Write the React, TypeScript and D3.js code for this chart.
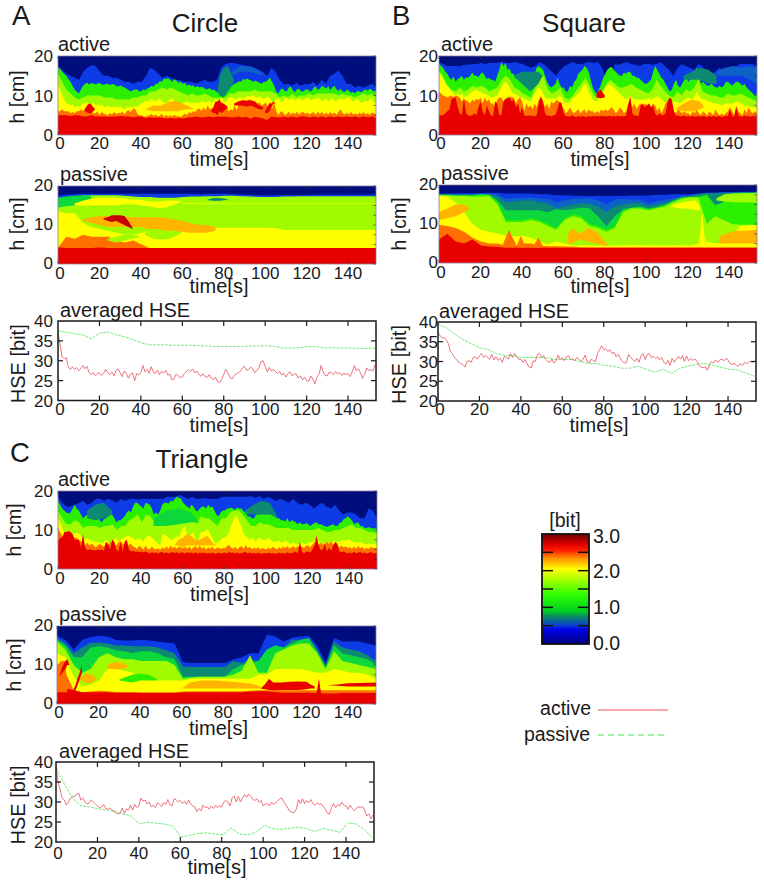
import React from "react";
import * as d3 from "d3";

const TMAX = 153.5;
const PAL: Record<string, string> = {
  navy: "#00087c", blue: "#0a3ae6", mid: "#0b62c8", teal: "#0a8a72", green: "#10d83a", bright: "#2cf000",
  lime: "#a0fa00", pale: "#c8ff00", yellow: "#ffff00", amber: "#ffb400", orange: "#ff7000", red: "#e80000", dark: "#c40000",
};
const xTicks = [0, 20, 40, 60, 80, 100, 120, 140];
const hTicks = [0, 10, 20];
const hseTicks = [20, 25, 30, 35, 40];
const barLabels = ["3.0", "2.0", "1.0", "0.0"];

// ---- Circle active
const caBlue = [17.5,16.5,15.5,15,14.5,14,16,17,17.7,17.5, 16,15,15,14.5,14.5,14,13.5,13.5,13,13.5, 13.5,15,17,16.5,15.5,14.5,15,14.5,14,14, 13.5,13.5,13.5,13,13.5,14,13.5,13.5,14,17, 18,18.2,18.2,18,17.8,17.5,17.5,17,16.5,16, 15,17,16,14,12.8,13,12.5,13.2,12.5,13, 12.8,13.5,12.5,14,13,15,15.5,16.3,15,13, 13,12,12.5,12,12.5,13,12];
const caGreen = [17,16.8,16,15.5,15,14.2,13.5,12.5,11.5,11,10.5,11.5,12.5,13,13.2,12.8,13.2,13,12.9,13, 13.2,12.8,12.7,12.9,13,12.6,13,12.8,12.5,12.3,12.6,12.3,12,11.7,11.4,11,11.3,11.5,11.6,11.1, 11.1,11.6,11.4,11.8,12,12.5,12.3,13,13,13.7,13.5,14.3,14.2,14.4,14,13.5,14.2,13.8,13.2,13.5, 13,13.2,12.5,12.8,12.4,12.6,12,12.4,12,12.2,12,11.6,11.6,11.9,11.3,11.6,11,10.8,10.3,10, 10.5,11.5,12.5,12.8,12.6,13,13.2,13.6,13.5,14.2,14,14.3,14,13.8,13.4,13.8,13.5,13.2,13,13.5, 13.5,14,14.5,13.5,12.5,11,10.5,11.5,11.8,11.2,11,12,12.3,11.3,10.8,11.6,11.7,11.1,11,11.5, 11.6,11.2,11,12,12.3,11.4,11.8,12.4,12.2,11.7,12.4,11.4,12,12.5,11.5,11.2,11.7,11,10.9,11.5, 11.2,10.7,10.9,10.6,11.2,11,10.8,11.3,11.6,11.2,11.8,11.4,11,11.3];
const caLime = [15.5,13.5,11.5,10.5,9.5,9,9.5,10,10,10, 10,9.5,9.5,9.5,9,9,9,9,9.5,9.5, 10,10,11,11,11.5,12,11.5,12,11.5,11, 10.5,10,10.5,10,10,10.5,10,9.5,9.5,9.5, 9.5,10.5,10.5,11,11,11,11,11.5,11,11, 11,11,10.5,9.5,10,9.5,10.5,9.5,10,10, 10.5,10,10.5,10.5,10.5,10.5,10.5,10,10.5,10, 10,9.5,10,10.5,10,10.5,9.5];
const caYellow = [13,11.5,10,9,8,8,7.5,7.8,7,7.4,7,7.5,8,8,8.2,8,7.8,8.2,7.5,7.8, 7.5,7.7,7.2,7,7.4,7.2,6.9,7.3,7.1,7,7.3,6.8,6.5,7,7.2,7,6.9,7.3,7.2,7.5, 8,8.2,8.7,8.2,9,9.2,8.7,8.5,9,9.3,8.7,8.2,8,8.7,9,9.4,8.3,8,8.3,7.8, 8,8.3,8.7,8.2,8,8.3,7.9,8.3,8,8.6,8.6,8.2,8.4,8.8,8,8.6,9.2,8.5,9,9.4, 8.2,8.6,9.2,9.6,9.5,9.2,9,9.6,9.6,9.2,9.5,10,9.7,10,10,9.6,9.4,9.8,9.5,9.2, 9.4,9.8,9.2,8.6,8.4,9,9.3,8.6,8.4,9.2,9.5,8.8,9,9.4,8.6,9,9.5,8.8,8.8,9.2, 9.5,9,8.8,9.2,9.1,9.6,9,8.6,8.9,9.3,8.5,8.9,9.4,8.7,8.6,9.1,9.3,8.9,9.1,9.4, 9.6,9,8.4,8.9,9.2,8.6,8,8.4,8.7,8.4,9,9.3,8.2,8];
const caOrange = [6,6,6.5,6,6,6,5.5,5.8,5.5,6,6,6.5,6,6.8,7,6.5,6,5.5,5.5,6, 5,5.8,5.5,5.2,5,5.6,5.2,5.8,5.3,5.6,5.5,5.9,5.2,6,6.2,5.8,6.5,6.8,5.5,5, 5,4.8,4.6,4.9,5,5.3,4.8,5.2,4.7,4.9,5.4,4.5,5.1,4.7,5,4.6,5.1,4.7,4.9,4.5, 5,5.5,5,5.8,5.5,6,5.8,6.5,6.8,6,7,6.2,7.5,6.5,6.8,7,8.2,8.5,6.5,8.5, 7,7.5,6,6.5,6.2,7.5,6.2,8,8,8.5,8.8,8.6,9,8.8,8.6,8.5,8,8.2,7.5,7.8, 8.2,7,8.5,6.5,8.2,6,5,5.8,6,5,5.3,5.9,5.2,5.7,5.3,5.9,5.2,5.7,5.8,5.4, 5.7,5.2,5.6,5.8,5.1,5.9,5.4,5.8,5.2,5.7,5.2,5.8,5.3,5.7,5.1,5.9,6.5,5.5,5.2,5.7, 5.2,5.8,5.2,5.5,5.1,5.7,5.3,5.8,5.2,5.6,5.1,5.7,5.5,5.2];
const caRed = [5,5,5,4.8,5,5,4.7,4.7,5,4.7, 4.7,4.7,4.6,4.7,4.7,4.8,4.7,4.7,4.5,4.7, 4.6,4.3,4.5,4.3,4.5,4.3,4.2,4.3,4.2,4.3, 4.2,4.4,4.5,4.7,4.5,4.5,4.7,4.5,4.7,4.6, 4.7,4.5,4.4,4.7,4.4,4.6,4.1,4.6,4.4,4.2, 3.8,4.7,4.5,4.4,4.7,4.4,4.7,4.4,4.7,4.7, 4.4,4.7,4.4,4.7,4.4,4.7,4.5,4.7,4.5,4.7, 4.5,4.7,4.4,4.7,4.5,4.7,4.4];
const caPatches = [
  { c: "teal", t: [77, 78, 80, 82, 84, 85], lo: [11, 10, 9.5, 11, 12.5, 14], hi: [11, 15, 17, 17.5, 15, 14] },
  { c: "mid", t: [84, 88, 92, 96, 100], lo: [15, 16, 16, 15.5, 15], hi: [16, 17.5, 17.5, 16.5, 15] },
  { c: "amber", t: [42, 46, 50, 54, 58, 62, 66], lo: [6.5, 6, 6, 6, 6, 6.5, 6.5], hi: [6.5, 7.5, 7.5, 8.5, 8.5, 7.5, 6.5] },
  { c: "red", t: [13, 14, 15, 16, 17, 18], lo: [6, 5.7, 5.5, 5.5, 6, 6.5], hi: [6.5, 7.5, 8, 7.8, 7, 6.5] },
  { c: "red", t: [74, 75, 76, 77, 78, 79, 80, 82], lo: [6, 5.5, 5.5, 5, 6, 5.5, 6, 7], hi: [6, 7, 8.5, 8.5, 9, 8, 8, 7] },
  { c: "red", t: [85, 87, 89, 91, 93, 95, 97, 99], lo: [7.5, 7.5, 7.5, 7.2, 7.5, 7, 6.5, 6.5], hi: [8, 8.5, 8.8, 8.7, 8.8, 8.4, 7.5, 7] },
  { c: "red", t: [100, 101, 102, 103, 104, 105], lo: [5.5, 5.5, 6, 7, 8, 8], hi: [6, 7, 8, 8, 8.5, 8] },
];

// ---- Circle passive
const cpBlue = [17.5,17.8,17.9,18,18,18,18,18,18,18, 18,18,18,18,18,18,18,17.9,18,18, 18,17.9,17.8,17.7,17.6,17.6,17.6,17.7,17.7,17.7, 17.7,17.8,17.8,17.8,17.8,17.8,17.8,17.8,17.8];
const cpLime = [16.8,17,17.3,17.5,17.6,17.6,17.6,17.6,17.5,17.3, 17.2,17.2,17,17,17,17.2,17.3,17.3,17.4,17.4, 17.5,17.5,17.4,17.3,17.2,17.2,17.2,17.3,17.3,17.4, 17.4,17.4,17.4,17.4,17.4,17.4,17.4,17.4,17.4];
const cpYellow = [13.5,13,13,10.5,9.5,9,8.5,8,7.5,7.5, 8,8.5,8.5,8.5,8.5,8.5,8.8,9,9.3,9.3, 9.3,9.3,9.3,9.3,9.3,9.3,9.2,8.7,8.7,8.7, 8.7,8.7,8.7,8.7,8.7,8.7,8.7,8.7,8.7];
const cpOrange = [4.2,7,6.5,7.5,7,7,7,6,5.5,6, 5,4,4,4,4,4,4,4,4,4, 4,4,4,4,4,4,4,4,4,4, 4,4,4,4,4,4,4,4,4];
const cpRed = [4.2,4.1,4.1,4.1,4.1,4.2,4.1,4.1,4.1,4.1, 4.1,4.1,4.1,4.1,4.1,4.1,4.1,4.1,4.1,4.1, 4.1,4.1,4.1,4.1,4.1,4.1,4.1,4.1,4.1,4.1, 4.1,4.1,4.1,4.1,4.1,4.1,4.1,4.1,4.1];
const cpPatches = [
  { c: "green", t: [0, 4, 8, 12, 16], lo: [14.5, 14.8, 15, 16, 16.8], hi: [17, 17.3, 17.5, 17.6, 17.6] },
  { c: "yellow", t: [8, 12, 16, 20, 24, 28, 32, 36, 40, 44, 48, 52, 56, 60], lo: [15, 15, 15, 15, 15, 15, 15.3, 15.3, 15, 14.8, 14.3, 14.5, 15.2, 16], hi: [15.5, 16.2, 16.7, 17, 17, 17, 16.8, 16.5, 16.5, 16, 16, 16.2, 16.3, 16] },
  { c: "pale", t: [60, 90, 120, 153.5], lo: [15.3, 15.3, 15.3, 15.3], hi: [15.8, 15.7, 15.7, 15.7] },
  { c: "teal", t: [72, 75, 78, 82], lo: [16.4, 16.2, 16.2, 16.5], hi: [16.5, 16.9, 16.9, 16.6] },
  { c: "lime", t: [42, 46, 50, 54, 58, 60, 64], lo: [7.5, 6.5, 6.3, 6.5, 7.5, 8, 8], hi: [8, 9, 9, 9, 8.5, 8, 8] },
  { c: "lime", t: [24, 28, 32, 36, 40], lo: [6, 5.5, 6, 6.5, 7], hi: [6.5, 7, 7.5, 7.5, 7] },
  { c: "amber", t: [12, 16, 20, 24, 28, 32, 36, 40, 44, 48, 52, 56, 60, 64, 68, 72, 76], lo: [11, 10.5, 10, 9.5, 9.5, 9.5, 9.5, 9.5, 9, 9, 8.5, 8.5, 8.2, 8, 8, 8, 8.5], hi: [11.5, 12, 12.3, 12.3, 12.3, 12.2, 12, 12, 12, 12, 11.8, 11.5, 11, 10.5, 10, 10, 9.5] },
  { c: "dark", t: [22, 24, 26, 28, 30, 32, 34, 36], lo: [11.5, 11, 10.8, 11, 10.5, 10, 9.5, 9], hi: [11.8, 12, 12.5, 12.5, 12.5, 12.3, 11, 9.2] },
];

// ---- Square active
const saBlue = [18.5,18,17.5,17.5,17.5,17.5,17.8,17.8,18,18, 18.2,18,18.2,18.3,18.3,18.5,18.3,18.2,18.5,18.2, 18,17.5,17,17.5,18.5,18,17,16,15,16.5, 17.5,18,18.5,18,18,18.3,18.5,18.2,18.5,17, 14,15,18,17.8,18.2,18.5,18,17.8,17.5,18, 18,17.8,18,18.5,17.5,16.5,15,17,18,17.5, 17,16.5,18,17.5,15,15.5,16,17,16.5,16, 16.5,17.5,18,18,18,18,17.5];
const saGreen = [18,17.5,17,16,15.5,14.5,14,14.8,13.5,14.2,14.5,15,14,14.6,14.5,15,15.8,15,15,14.6, 15.5,15.8,15,14.2,14.5,14,14,13.5,15,16.5,18.5,17.5,18.2,16.5,16.8,15.5,15.5,14.2,14.5,13.5, 14,13,12.5,12,12,14,15.5,17,17.5,17,16.5,15,13.5,12.5,12,12.5,13,14.5,13,12, 12,11,11,12.5,12,13.5,14,15.5,16,16.5,17.5,17,16,14,12,11,10.5,11.5,13,14.5, 15.5,16.5,17,17.3,16.5,16,15.5,15,15,15.8,15.5,16,16,15,15,14.5,14.5,14,13.5,13, 13,13.5,14,16,17.5,16.5,15.5,14.5,14,13,12,11,11.5,13,14,12.5,12,13,14,14.5, 13.5,14.5,15,16,17,16,13,13.5,13,12.5,12.5,13,12.5,12,12,12.5,12,12.5,13.5,13.5, 13,12.5,13,13.5,13.5,13,12.5,13,12,11.5,11,10.5,10,10.5];
const saLime = [16,14,12,11.5,11,12,11,11.5,12.5,12, 12.5,12,11,11.5,12,14,15,14,12,11.5, 10.5,10,9.5,12,14,15,11.5,10.5,11,12, 9.5,9,10,11.5,13,14.5,12.5,10,9.5,11, 13,14,13,12,12,12.5,13,12,11.5,11, 10.5,11.5,14,12.5,11,10,9.5,11,10,11.5, 11,12,14,11,10.5,10,10,9.5,9.5,10.5, 10,10,10.5,10,9.5,9,8.5];
const saYellow = [16,15.5,14.5,13.5,12.5,12,11,10.5,10,10.5,10,10.5,9.5,9.8,10,10.5,11,11.2,11.5,11, 11,10.5,10.5,10.2,10,9.5,9.5,9.8,10,11,12,13,13.5,13,12,11,10.5,10.2,10,9.5, 9.5,9,9,8.7,8.5,9.5,10.5,11.5,12,11.5,10.5,9.5,9,9.5,9,9.5,9,9.5,10,9.5, 8.5,8.2,8,8.5,9,9.5,10,10.5,11,12,13,12.5,11,10,9,8.7,8.5,9.5,10,11, 12,12.5,13,12.5,12,11.5,11,10.5,10,9.5,9,9.5,10,9.5,9,9,9,8.8,9,9, 9,9.5,9,9.2,9.5,9.8,9.5,9,8.5,8.2,8,8,8,8.5,8.5,8.2,8,8.5,9,9.2, 9.5,9.2,9,10,11,10,9.5,9,9,8.7,8.5,8.2,8,8,8,7.8,7.5,7.7,8,8, 8,8,8,8.5,8.5,8,8,7.5,7.5,7.2,7,7,7,6.8];
const saOrange = [11,10.5,10,9.8,9.5,9.8,10,9.5,10,9.8,9.5,8.5,9,8.8,8.5,8,9,8.5,9.2,8.8, 9.5,8,9.5,8.5,9,8,8,7,9,9.5,9.5,8.5,9.5,8.5,9.8,9.5,9.5,8,9,9.5, 8.5,6,8,7,7.5,6.5,8,7,9,9.5,8.5,7,8,6.5,8.5,8,8.5,9,8,7.5, 6.5,5.5,6,7,6,5.5,6,6.5,5.5,6,6.5,5.5,6.5,6,6,5.5,6,5.5,6.5,6, 6.5,6,6.5,7,6.5,5.5,6,7,6.5,5.5,6,8,9,7,8,6.5,7.5,8,7,8, 7.5,8,7,8,7.5,6,7,5.5,6.5,8,8.5,9,7.5,6,5.5,6.5,6,5.5,6,5.5, 5.5,5,6,5.5,6.5,5.5,5,6,5.5,5,6,5.5,5,6.5,5.5,5,5.5,5,5.5,6, 7,6,5,7.5,6,5.5,5,6.5,5.5,7,6,5.5,6,5.5];
const saRed = [5,5,5,5.5,6,6.5,9,9.5,9.5,7,5.5,5,9.5,5.5,5,4.8,5,5.5,5,7, 8.5,6,5,7.5,6,5,4.8,8.5,8,5,5,8.5,9,9.5,9.5,8.5,9,7,8,5.5, 7,5,4.8,5,4.8,5,4.7,5,8,9.8,8.5,5.5,4.8,5,4.7,5,5,6.5,8.5,8, 5.5,4.7,4.8,4.6,5,4.7,4.5,4.8,4.6,4.8,4.7,4.5,4.8,4.6,4.8,4.7,4.8,4.7,4.9,4.7, 4.8,4.7,4.9,4.7,4.8,4.7,4.9,4.7,4.8,4.7,4.9,7.5,9.8,5.5,4.8,5,4.7,7.5,8,7, 7.5,8,7,7.5,5.5,4.8,5.5,5,5,5.5,8.5,9.5,9,6,4.8,5,4.7,4.8,4.9,4.7, 4.8,4.6,4.9,4.7,4.7,4.8,4.6,4.8,4.7,4.5,4.8,4.6,4.9,4.6,4.7,4.8,4.5,4.7,4.9,4.7, 6.5,4.8,4.6,7,5,4.7,4.6,5,4.7,4.8,4.6,4.9,4.7,4.8];
const saPatches = [
  { c: "teal", t: [36, 40, 44, 48, 50], lo: [15, 13, 11, 13, 15], hi: [15, 16, 16, 16, 15] },
  { c: "teal", t: [118, 122, 126, 130, 134], lo: [14, 14, 14, 13, 13], hi: [15, 16, 17, 16.5, 15] },
  { c: "mid", t: [134, 138, 142, 146, 150, 153.5], lo: [15, 15, 15, 15, 14, 13], hi: [16, 17, 17.5, 17, 17.5, 17] },
  { c: "amber", t: [114, 118, 122, 126, 128], lo: [6.5, 6, 6, 6.5, 7], hi: [6.5, 8, 9, 8.5, 7] },
  { c: "red", t: [76, 78, 80], lo: [9.5, 9.3, 9.5], hi: [10.5, 11.5, 10] },
];

// ---- Square passive
const spBlue = [17.8,17.8,17.9,17.9,17.9,17.9,18,18,17.8,17.8, 17.8,17.8,17.6,17.6,17.4,17.4,17.3,17.2,17.2,17.2, 17.2,17.2,17.2,17.3,17.3,17.3,17.5,17.5,17.6,17.6, 17.6,17.8,18,18,18.2,18.2,18.3,18.3,18.3];
const spMid = [17.7,17.7,17.7,17.7,17.7,17.8,17.8,17.5,16.5,16.6, 16.8,16.8,16.5,16.4,15.5,16,16.5,16.5,16.6,16, 15,16.3,16.4,16.3,16.3,15.4,15.8,16.2,16.6,17.1, 17.3,17.7,18,18,18.1,18.1,18.2,18.2,18.2];
const spTeal = [17.6,17.6,17.5,17.5,17.5,17.7,17.7,17,15.5,15.8, 16,16,15.5,15.2,14,14.5,15,15.3,15.2,14.5, 13,14.5,15,15.3,15.4,14.6,15,15.4,16.2,17, 17.2,17.6,17.9,17.9,18,18,18.1,18.1,18.1];
const spGreen = [17.5,17.5,17.4,17.4,17.4,17.6,17.5,16,13.5,13.5, 13.5,13.5,13.5,13,13.8,13.5,13.8,14.2,14,12, 9.5,12,13.8,14.2,14.5,14,14.3,15,16,16.8, 17,17,17.5,15,15.5,17.8,18,18,18];
const spBright = [17.4,17.4,17.3,17.3,17.3,17.5,17.4,15.5,11,11, 11,11.5,11,10,9,11.5,12.5,12,10,9.5, 8.5,9.5,13.4,14.1,14.2,13.7,14.2,14.7,15.8,16.6, 16.9,16.9,17.4,14.5,15.7,17.7,17.9,17.9,17.9];
const spLime = [17.3,17.3,17.2,17.2,17,17,17.2,15,10.5,10.5, 10.5,11,10.5,9.5,8.5,11,12,11.5,9.5,9, 8,9,13,14,14,13.5,14,14.5,15.5,16.5, 16.8,16.8,10,12,11,10,9.8,9.8,9.8];
const spYellow = [17.3,17,15.5,13,10,8.5,8,7.5,7,6.8, 7,6.5,5.5,4.8,5.5,5,4.5,4.5,4.6,4.5, 4.5,4.5,4.5,4.6,4.6,4.5,4.5,4.5,4.6,4.5, 4.5,5,5.5,5,5,7,9.5,9.7,9.7];
const spOrange = [9.8,9.5,9,8,6.5,5.5,5,5,4.5,4.5, 5,5,4.5,4.3,4.3,4.2,4.2,4,4,4, 4,4,4,4,4,4,4,4,4,4, 4,4,4,4,4,4,4,4,4];
const spRed = [6,7.5,5.5,5,6,4.5,4.2,4.1,4,4, 3.9,3.9,3.9,3.9,3.9,3.9,3.9,3.9,3.9,3.9, 3.9,3.9,3.9,3.9,3.9,3.9,3.9,3.9,3.9,3.9, 3.9,3.9,3.9,3.9,3.9,3.9,3.9,3.9,3.9];
const spPatches = [
  { c: "lime", t: [134, 138, 142, 146, 150, 153.5], lo: [16, 15.8, 15.6, 15.6, 15.5, 15.5], hi: [16.6, 17.7, 17.8, 17.8, 17.9, 18] },
  { c: "yellow", t: [112, 116, 120, 124, 126], lo: [14.5, 14, 14, 13.5, 13.5], hi: [14.8, 15.3, 15.8, 16, 14.5] },
  { c: "amber", t: [0, 4, 8, 12, 15], lo: [11, 11.5, 12, 13, 14], hi: [13, 14, 15, 15, 14] },
  { c: "amber", t: [62, 64, 68, 72, 76, 80, 82], lo: [5, 5, 6, 5.5, 5, 4.5, 4.5], hi: [7, 9, 7.5, 9, 8, 5.5, 4.5] },
  { c: "amber", t: [135, 136, 140, 144, 148, 153.5], lo: [5.5, 5, 5, 5, 5, 5], hi: [5.5, 7, 7.8, 8.3, 8.3, 8.5] },
  { c: "yellow", t: [125.5, 127, 128.5], lo: [5, 5, 5], hi: [5, 13, 5] },
  { c: "orange", t: [31, 33, 34, 35, 37], lo: [4, 4, 4, 4, 4], hi: [5, 7.5, 8.5, 7, 5] },
  { c: "orange", t: [38, 39.5, 41], lo: [4, 4, 4], hi: [5, 7, 5] },
  { c: "orange", t: [46, 48, 50], lo: [4, 4, 4], hi: [4.8, 6.5, 4.5] },
];

// ---- Triangle active
const taBlue = [18.5,17,16,16,16.5,17,17.5,16.5,17,18, 18,17.5,18,17.5,17,18,17.5,18,18,17.8, 18,18,18,18,18,18,18.5,18.5,18.5,19, 18.5,18,18.5,18,18,18.2,18,18,18,18.5, 18.5,18.5,18.5,18.5,18.5,18.5,18.7,18.2,18.7,18, 18.5,18,17.5,18,17.5,17,18,17,16.5,17, 16.5,15.5,16.5,17,16,15.5,16.5,15,14,14.5, 14.5,14,13,13,15.5,15,13];
const taGreen = [17.5,16.5,15.5,15,14.5,14.2,14.5,15.5,16.5,15.5,15,14,13,13.5,14,15,15,14.5,14.8,14.2, 12.5,12,12.8,13,13.5,14,14,13,12,12.5,12.5,13,13.5,14.5,15,14.5,16,17,17,16.5, 16,15.5,17,16.8,16.5,15.5,14,14.5,14,15,16.5,17,17,16.8,17.5,17.3,18,18.5,18.3,18, 17,16.5,16,15.5,16.5,16,15,14.8,15.5,16,16,15.5,16.5,15.8,16,15,14,13.5,14.5,15, 15,15.5,15.5,15.8,15.5,15.2,15.8,15.5,15.5,14.8,14.5,13.5,13.5,13,13,14,14,15,14.5,14, 16,16.5,15,14.5,13.5,13,13,12.5,12.5,12.2,13,12,12.5,12.3,12,11.5,12,11.5,11.5,11.8, 11.5,11,11.5,11.8,12,11.5,11.5,11.2,11,10.8,11,11.3,11.5,11,11,11.8,12,12.8,13,13.5, 13,12.5,11.5,11.8,12,11,11,10.6,10.5,10.8,10.5,10.3,10.6,10];
const taLime = [15,13,11.5,11.5,12.5,12,10.5,11,11,11, 10.5,11,11,11.5,10,11,11,12.5,13,14, 12,14,13.5,12,11,12.5,13.5,13,12.5,12.5, 13.5,12,13,11.5,13.5,13,13,12,11,13, 13,14.5,15,15,14,12.5,11,11,12,11.5, 11.5,11,10.5,10.5,10.5,10.5,10,10,10,10, 10,10,10.5,10,9.5,9.5,10,10,10.5,11, 11.5,10.5,10.5,10,9.5,9.5,9];
const taYellow = [13,12,10.5,9.5,9.5,10,9.5,9,9,9.5,9,8.5,8,7.5,8,7.5,7.5,7,7,6.8, 7,6.5,7,7.5,7,6.5,7,7.5,8,7,7.5,8,8,8.5,8.5,8,8,7.5,7.5,8, 7.5,7,8,8.5,8.5,8,7.5,7,6.5,6,8.5,9,8.5,8,7.5,7.5,8,8.5,8,9.5, 10.5,11,8.5,8,9,9.5,7.5,7,9,9.5,9.5,10,10,9,8,7,6.5,7,7.5,8, 8,8.5,9.5,11,12.5,13.5,13.5,12,11,9,8.5,8,7.5,8,7.5,7,8,8,7.5,7.5, 7.5,8,7.5,7,7,7,7.3,6.7,7,7.3,7,6.5,6.5,6.8,6.5,6.3,6.5,6.7,6.5,6.3, 6.7,7,6.7,7.3,7.5,7,7,6.5,6.5,6.8,6.8,7,7,7.3,6.8,7,7.3,7.5,7.2,7.5, 7.5,7,7,6.7,6.7,7,6.7,6.5,6.3,6.6,6.5,6.3,6.5,6.2];
const taOrange = [10.5,9.5,8.5,8,8,8.5,8,8,8,8,7.5,7,6.5,6,6.8,6,6.5,6.2,5.5,6, 6.5,6,5.8,6.5,6,6.8,7,6.2,6,6.8,7.2,6.5,6,5.5,6.2,6.5,5.8,5.5,5.2,6, 5.5,5,6,5.2,5,5.8,5.2,5,5.3,4.9,5.6,5.1,5.8,5.2,6,5.3,5.7,5.2,5.8,5.5, 5.3,5.7,5.2,5.8,5,5.5,5.9,5.2,6,5.2,5.7,5,5.6,5.2,5.8,5,5.3,5.6,5.1,5.4, 5.3,5.8,6.2,5.5,5.2,5.8,5,5.6,5.9,5.1,6.2,5.3,5.7,5,5.5,5.2,5.6,5,5.4,5.1, 5,5.5,5.1,5.7,5.3,5,5.6,5.2,5.8,5.3,5.9,5.2,5.6,5.8,5.3,5.9,5.4,5.8,5.3,6, 6,5.6,6.2,6.8,7,6.2,6.8,6.2,6.5,7,6.5,7.2,6.2,6.6,6,5.5,6,5.6,5.8,5.4, 5.6,5.2,5.8,5.2,5.9,5.3,5.7,5,5.5,5.1,5.7,5.3,5.5,5.1];
const taRed = [7,8,8,9.5,9.5,9.8,9.5,9,7.5,7.5,7.5,5.5,9,5.5,4.8,5,5,4.8,4.8,5, 4.8,5,4.7,7,6.5,5,7.5,7,5,4.5,7,4.5,7,7.5,5,4.5,4.6,4.4,4.5,4.3, 4.5,4.2,4.5,4.2,4,4.3,4.1,4.3,4,4.2,4.4,4,4.3,4,4.2,4.3,4.1,4.3,4,4.2, 4.2,4,4.3,4.1,4.2,4,4.3,4,4.2,4.1,4.2,4,4.1,4,4.2,4,3.9,4.2,4,4.1, 4.2,4,4.4,4.1,4.3,4,4.2,4,4.1,4.2,4.4,4,4.2,4,4.1,3.9,4.2,4,4,4.1, 4,4.2,4,4.1,3.9,4,4.2,4,4.1,4,4.3,4,4.1,4.2,4.5,4,7,4.5,4,4.4, 4.5,4.2,5,6,8.5,6,4.8,5,6.5,4.5,5.5,4.7,6,7,6.5,4.5,4.3,4.5,4.2,4, 4.2,4,4.5,4,4.2,4.5,4,4.2,4,4.1,4.4,4,4.1,4];
const taPatches = [
  { c: "teal", t: [14, 18, 22, 26], lo: [13, 12.5, 13, 14], hi: [15, 16.5, 17, 15] },
  { c: "teal", t: [90, 94, 98, 102, 106], lo: [14, 14, 14, 14, 13], hi: [15, 16.5, 17.5, 17, 13] },
  { c: "green", t: [46, 52, 58, 64, 68], lo: [11, 11, 11.5, 12, 12], hi: [13, 15, 15.5, 14.5, 12] },
  { c: "amber", t: [56, 58, 60, 62, 64, 66, 68, 70, 72, 74, 76], lo: [6, 6, 5.5, 6, 6, 6, 6, 6, 6, 6, 6], hi: [6, 7.5, 8, 9, 8.5, 7.5, 7.5, 8, 8.5, 7, 6] },
];

// ---- Triangle passive
const tpBlue = [17.5,16.5,14,16.5,17.2,17.5,17.3,16.5,16.3,16.3, 16.5,16.3,16,15.8,15.5,10.8,10.5,10.5,10.5,10.5, 10.5,11.5,12,13,13,17.8,17.3,16,17,17.3, 17.5,15,10.5,17,16,16,16,15.5,15];
const tpTeal = [17,15.5,13,14.5,15.7,15.8,15.5,15,15,14.8, 14.8,14.8,14.5,13.8,13,9.6,9.5,9.5,9.5,9.5, 9.5,11,10.5,11.5,11,14,15,14.5,16.5,16.5, 17,14,10,16,14.5,14,13.5,12.5,11];
const tpGreen = [16.5,15,12,12,14.5,14.8,14.5,13.8,13.5,13, 13.5,13.5,13,12,11.5,7,7,7,7,7, 7,9,10,10.5,11,14,15,14.5,15.5,16.5, 16.8,13.5,9.5,15,13,12.5,12,11.5,10];
const tpLime = [16,14,10,8,9,12,13,12,11.5,11.5, 11,11,11,11,10,6.5,6.8,7,7,7, 7,7.5,8.5,12.5,8,8,13,14,15,15.5, 15.5,13,9,13.5,11,10.5,10,9.5,9];
const tpYellow = [13,12,7,4.5,5,6,9,9,8.5,8, 7,6.5,6,6,6,6,6.5,6.5,6.5,6.5, 6.5,6.5,6.5,6.5,7.5,7.5,9,9,9,9, 8.5,8,8,9,8.5,8,8,7.5,6.5];
const tpOrange = [10,8,3.5,3,3.2,3.4,3.3,3.1,3.1,3.1, 3,3,3,3,3,3.2,3.3,3.3,3.3,3.3, 3.3,3.3,3.3,3.4,3.5,3.5,3.5,3.5,3.5,3.5, 3.5,3.5,3.5,3.5,3.5,3.5,3.5,3.5,3.5];
const tpRed = [7.5,4,3.5,3,3,3,3,2.9,2.9,2.9, 2.8,2.8,2.8,2.8,2.8,3,3,3,3,3, 3,3,3,3.2,3.3,3.3,3,2.9,2.9,2.9, 2.9,2.8,2.7,2.7,2.8,2.8,2.8,2.8,2.8];
const tpPatches = [
  { c: "amber", t: [24, 26, 29, 32, 34], lo: [9.3, 9, 9, 9, 9.5], hi: [9.8, 10.5, 10.7, 10.5, 9.8] },
  { c: "amber", t: [11, 13, 15, 17, 19], lo: [6.3, 5.5, 5.3, 5.5, 6.3], hi: [6.5, 7.5, 7.8, 7.5, 6.5] },
  { c: "bright", t: [30, 36, 40, 44, 48], lo: [6, 5.5, 6, 6, 6], hi: [6.3, 7.5, 7.8, 7.5, 6.5] },
  { c: "amber", t: [60, 64, 70, 76, 82, 88, 94, 98], lo: [4, 4, 4, 4, 4, 4, 4, 4], hi: [4, 5.5, 6, 6, 5.8, 5.5, 5.2, 4.5] },
  { c: "red", t: [98, 100, 102, 104, 108, 112, 116, 120, 122, 124], lo: [4, 3.8, 3.6, 3.5, 3.6, 3.6, 3.6, 3.8, 4, 4], hi: [4, 5, 6.5, 5.5, 5.5, 5.7, 5.8, 5.7, 5, 4.5] },
  { c: "red", t: [130, 135, 140, 145, 153.5], lo: [4.8, 4.7, 4.5, 4.5, 4.5], hi: [4.8, 5, 5.3, 5.4, 5.5] },
  { c: "red", t: [125, 126, 127], lo: [2.5, 2.5, 2.5], hi: [3, 6.5, 3] },
  { c: "red", t: [8, 9, 10, 11, 12], lo: [3, 3.6, 5, 6.5, 8], hi: [3.8, 5, 6.8, 8.2, 10] },
  { c: "orange", t: [0, 2, 4, 5], lo: [3, 3, 3, 3], hi: [10, 11, 11, 3.5] },
  { c: "red", t: [1, 2.5, 4, 5, 6], lo: [7, 8, 9, 10, 10], hi: [7, 9.5, 11, 11.5, 10] },
];

// ---- Averaged HSE
const cHseActive = [37,34,31,30.5,30.8,28.5,27.8,28.5,27.8,28.3,27.5,28,28.8,28,28.6,27,26.5,27,26.3,26.8, 27,26.3,26.8,27.8,27,26.5,27.2,26.2,27.5,28,27,26,27.4,26.8,25.6,26.6,26.9,25,26.8,26.5, 27,28.8,27.2,27.8,26.8,28.5,27.2,26.8,27.6,26.5,27.4,26.9,27.6,26.4,26.6,25.2,25.4,26.6,26.2,25.8, 25.9,26.8,27.4,27.8,27.3,27.9,27,27.4,26.6,26.1,26.7,26,25.8,26.5,25.6,25.2,25.9,24.8,24.5,25.3, 26.5,27.8,27,25.8,25.4,26.2,26.7,27,27.3,28.2,28.6,27.6,27.8,28.4,28,27,27.6,28.2,29.8,30, 28.5,27.2,28.3,27.4,27.8,27.2,26.8,27.3,26.4,26.8,25.9,26.8,27.2,26.2,26.6,26.7,25.6,26.2,25.2,25.9, 25,24.8,26.2,25.4,24.2,25.8,26.6,28.8,27.2,26.3,26.2,27.2,27,26.5,27.3,26.7,27,26.3,26.9,26.5, 26.8,26,27.2,28.8,27.5,28,27,25.6,26.5,28.2,27.5,27.8,27.4,29];
const cHsePassive = [37.5,37.2,36.8,36.5,35.5,37,37.2,36.5,36,35.3, 34.5,34,34,34,33.9,33.9,33.9,33.8,33.7,33.6, 33.6,33.6,33.6,33.7,33.7,33.8,33.6,33.2,33.2,33.3, 33.6,33.5,33.2,33.3,33.2,33.2,33.1,33.1,33.2];
const sHseActive = [37.5,36.5,36,36,35.5,34.5,32.5,32,31,30.5,29.8,29.5,29.2,28.6,30,30.2,29.8,31,31.2,30.6, 31.5,32,31,31.5,31,30.6,31.8,30.4,31.2,30.3,30.8,29.8,31.3,31,30.6,32,31,32,31.2,30.5, 30.6,29.8,30.5,29.4,28.6,28.4,30.2,30,31.8,32,31,31.5,30.5,30,29.8,30.6,29.6,30.2,31.6,30.5, 31,30.2,31.2,31.5,30.4,30.7,30.2,31,30.6,30,30.5,31.6,30,29.7,30.6,30.2,30,32,33,34, 33,33.2,32.5,33,32,32.3,31.2,31.8,30.8,30,29.6,29.8,31.8,31,30.5,30,30.8,29.8,31.5,32, 30.5,31.8,32,31,31.3,30.8,31.2,30.4,31,29.8,29.4,30.3,29,30.8,29.8,30.5,31.3,30.6,31.5,30, 31.4,30.2,30.8,30.3,30.6,30.1,29,28.6,28.4,28.7,27.8,29.2,30,29.6,30.4,29.8,30.4,30.6,30.2,30.8, 30.4,29.5,29.2,29.6,29,28.8,29.5,29,29.8,29.4,29.9,30,29.8,30.2];
const sHsePassive = [39.5,38.5,37,35.5,34.5,33.5,33,32,31.5,31.5, 31,31,31,31,30.5,30.5,30.5,30,29.5,29.5, 29,28.8,28.3,28.3,28.8,28,27.3,28,27,28.3, 28.8,29.3,29.5,29,28.5,28,27.8,27,26.2];
const tHseActive = [39,35,33,31,30.5,29.2,30,31,31.5,31.3,32,32.2,30.5,31,30,29.5,29.8,30.5,30,29.5, 29,28.6,28.8,29.4,28.4,28.2,28.5,28,27.8,27.3,27,27.3,28.5,27.2,28.2,28,29.2,28,29.4,28.6, 29,31,30.2,30.5,29.5,30,28.8,29.2,28.6,29.8,29.4,28.9,29.9,29.4,30.6,29.4,29,30.8,30.6,30, 30.4,29.6,30.2,29.4,30.5,29.6,29,28.8,27.6,28.4,27.8,29.2,28.6,28.8,28.2,29,28.4,29.2,28.6,29, 28.8,30,30.4,30,29,31,31.5,30,31.4,30,31,31.8,31.2,32,31.4,30.6,30.4,30.8,29.9,30.4, 29,29.4,29.6,29,30,29.4,29.8,30.2,30.8,31,30,29.2,28.4,27.6,27.4,27.4,28.2,30.6,29.6,30.8, 29.6,30.4,29.8,30.6,29.6,29.2,29.8,29.4,29.6,28.8,28.2,27.2,27,28.6,29.6,28.6,29.4,29,30,29.2, 29,28.2,29.2,28.4,27.8,28.4,28.8,28.6,28.9,28,26.5,27,25.8,26.8];
const tHsePassive = [38.5,34.5,31,29,28.8,28.3,28,27.6,27,26.5, 24.5,25,24.7,24.5,24,21.2,21.7,22.1,22.3,22, 21.8,23.5,22,21.8,22.5,24.2,23.3,23.2,23.4,23.7, 23.4,22.6,23.4,23,22.4,24.8,24.5,23,21];

const gradientStops: [number, string][] = [
  [0, "#000080"], [0.13, "#0000e8"], [0.17, "#0a40d0"], [0.25, "#0a8a60"], [0.3, "#00d020"], [0.45, "#30ff00"],
  [0.58, "#a0ff00"], [0.68, "#ffff00"], [0.78, "#ff9000"], [0.85, "#ff2000"], [0.9, "#e80000"], [1, "#700000"],
];

type Patch = { c: string; t: number[]; lo: number[]; hi: number[] };
type Layer = [string, number[]];

const font = "'Liberation Sans', Arial, sans-serif";

function Txt(p: any) {
  return <text fontFamily={font} fill="#1a1a1a" {...p} />;
}

function XLabels({ x, tickY, timeY, cx }: any) {
  return (
    <g>
      {xTicks.map((t) => (
        <Txt key={t} x={x(t) + (t === 0 ? 2 : 0)} y={tickY} fontSize={17} textAnchor="middle">{t}</Txt>
      ))}
      <Txt x={cx} y={timeY} fontSize={20} textAnchor="middle">time[s]</Txt>
    </g>
  );
}

function Heat({ id, x0, x1, top, bottom, layers, patches, name, labelY, labelRight, hx, nameX, timeY, tickY, tickOff }: any) {
  const x = d3.scaleLinear().domain([0, TMAX]).range([x0, x1]);
  const y = d3.scaleLinear().domain([0, 20]).range([bottom, top]);
  const area = (vals: number[]) =>
    d3.area<number>().x((_, i) => x((i * TMAX) / (vals.length - 1))).y0(bottom).y1((d) => y(d))(vals) as string;
  const patchArea = (p: Patch) =>
    d3.area<number>().x((d) => x(d)).y0((_, i) => y(p.lo[i])).y1((_, i) => y(p.hi[i]))(p.t) as string;
  return (
    <g>
      <clipPath id={id}><rect x={x0} y={top} width={x1 - x0} height={bottom - top} /></clipPath>
      <g clipPath={`url(#${id})`}>
        <g filter="url(#soft)">
          <rect x={x0 - 2} y={top - 2} width={x1 - x0 + 4} height={bottom - top + 4} fill={PAL.navy} />
          {(layers as Layer[]).map(([c, v], i) => <path key={i} d={area(v)} fill={PAL[c]} />)}
          {(patches as Patch[]).map((p, i) => <path key={i} d={patchArea(p)} fill={PAL[p.c]} />)}
        </g>
      </g>
      <rect x={x0} y={top} width={x1 - x0} height={bottom - top} fill="none" stroke="#8a7a9a" strokeWidth={0.8} />
      {xTicks.map((t) => (
        <g key={t} stroke="#3a3a3a" strokeWidth={0.8} opacity={0.7}>
          <line x1={x(t)} x2={x(t)} y1={top} y2={top + 3} />
          <line x1={x(t)} x2={x(t)} y1={bottom} y2={bottom - 3} />
        </g>
      ))}
      {d3.range(0, 21, 2.5).map((h: number) => (
        <line key={h} x1={x1} x2={x1 - 3} y1={y(h)} y2={y(h)} stroke="#3a3a3a" strokeWidth={0.8} opacity={0.7} />
      ))}
      {hTicks.map((h) => (
        <Txt key={h} x={labelRight} y={y(h) + tickOff} fontSize={17} textAnchor="end">{h}</Txt>
      ))}
      <Txt transform={`translate(${hx},${labelY}) rotate(-90)`} fontSize={19.5} textAnchor="middle">h [cm]</Txt>
      <Txt x={nameX} y={top - 5} fontSize={20}>{name}</Txt>
      <XLabels x={x} tickY={tickY} timeY={timeY} cx={(x0 + x1) / 2 + 2} />
    </g>
  );
}

function Hse({ x0, x1, top, bottom, active, passive, labelRight, hx, nameX, tickY, timeY }: any) {
  const x = d3.scaleLinear().domain([0, TMAX]).range([x0, x1]);
  const y = d3.scaleLinear().domain([20, 40]).range([bottom, top]);
  const line = (vals: number[]) =>
    d3.line<number>().x((_, i) => x((i * 153) / (vals.length - 1))).y((d) => y(d))(vals) as string;
  return (
    <g>
      <path d={line(passive)} fill="none" stroke="#66e86e" strokeWidth={0.9} strokeDasharray="3 1" />
      <path d={line(active)} fill="none" stroke="#e8505a" strokeWidth={0.8} />
      <rect x={x0} y={top} width={x1 - x0} height={bottom - top} fill="none" stroke="#1a1a1a" strokeWidth={1.5} />
      {xTicks.slice(1).map((t) => (
        <g key={t} stroke="#1a1a1a" strokeWidth={1.2}>
          <line x1={x(t)} x2={x(t)} y1={top} y2={top + 5} />
          <line x1={x(t)} x2={x(t)} y1={bottom} y2={bottom - 5} />
        </g>
      ))}
      {hseTicks.slice(1, 4).map((h) => (
        <g key={h} stroke="#1a1a1a" strokeWidth={1.2}>
          <line x1={x0} x2={x0 + 5} y1={y(h)} y2={y(h)} />
          <line x1={x1} x2={x1 - 5} y1={y(h)} y2={y(h)} />
        </g>
      ))}
      {hseTicks.map((h) => (
        <Txt key={h} x={labelRight} y={y(h) + 6} fontSize={17} textAnchor="end">{h}</Txt>
      ))}
      <Txt transform={`translate(${hx},${(top + bottom) / 2 + 3}) rotate(-90)`} fontSize={20} textAnchor="middle">HSE [bit]</Txt>
      <Txt x={nameX} y={top - 4} fontSize={20}>averaged HSE</Txt>
      <XLabels x={x} tickY={tickY} timeY={timeY} cx={(x0 + x1) / 2 + 2} />
    </g>
  );
}

function ColorBar() {
  const y = d3.scaleLinear().domain([0, 3]).range([644, 534]);
  return (
    <g>
      <defs>
        <linearGradient id="cb" x1="0" y1="1" x2="0" y2="0">
          {gradientStops.map(([o, c]) => <stop key={o} offset={o} stopColor={c} />)}
        </linearGradient>
      </defs>
      <rect x={542} y={534} width={47} height={110} fill="url(#cb)" stroke="#111" strokeWidth={1.8} />
      {[0.5, 1, 1.5, 2, 2.5].map((v) => (
        <g key={v} stroke="#111" strokeWidth={1.5}>
          <line x1={542} x2={553} y1={y(v)} y2={y(v)} />
          <line x1={578} x2={589} y1={y(v)} y2={y(v)} />
        </g>
      ))}
      {barLabels.map((l, i) => (
        <Txt key={l} x={593} y={[543, 578, 614, 650][i]} fontSize={19.5}>{l}</Txt>
      ))}
      <Txt x={565} y={527} fontSize={19.5} textAnchor="middle">[bit]</Txt>
    </g>
  );
}

export default function App() {
  return (
    <svg width={764} height={884} style={{ position: "absolute", left: 0, top: 0, background: "#fff" }}>
      <defs>
        <filter id="soft" x="0" y="0" width="100%" height="100%"><feGaussianBlur stdDeviation="0.35" /></filter>
      </defs>

      <Txt x={12} y={25} fontSize={27.5}>A</Txt>
      <Txt x={205} y={32} fontSize={26} textAnchor="middle">Circle</Txt>
      <Heat id="a1" x0={58} x1={376} top={56} bottom={135} name="active" nameX={58} labelY={97} labelRight={53} hx={24} tickY={149} timeY={166} tickOff={6}
        layers={[["blue", caBlue], ["bright", caGreen], ["lime", caLime], ["yellow", caYellow], ["orange", caOrange], ["red", caRed]]} patches={caPatches} />
      <Heat id="a2" x0={58} x1={376} top={186} bottom={264} name="passive" nameX={60} labelY={224} labelRight={53} hx={24} tickY={279} timeY={293} tickOff={4.5}
        layers={[["blue", cpBlue], ["lime", cpLime], ["yellow", cpYellow], ["orange", cpOrange], ["red", cpRed]]} patches={cpPatches} />
      <Hse x0={58} x1={376} top={321} bottom={400.5} active={cHseActive} passive={cHsePassive} labelRight={53} hx={25} nameX={60} tickY={415} timeY={432} />

      <Txt x={392} y={25} fontSize={27.5}>B</Txt>
      <Txt x={584} y={32} fontSize={26} textAnchor="middle">Square</Txt>
      <Heat id="b1" x0={439} x1={757} top={56} bottom={135} name="active" nameX={441} labelY={97} labelRight={438} hx={406} tickY={149} timeY={166} tickOff={6}
        layers={[["blue", saBlue], ["bright", saGreen], ["lime", saLime], ["yellow", saYellow], ["orange", saOrange], ["red", saRed]]} patches={saPatches} />
      <Heat id="b2" x0={439} x1={757} top={185} bottom={263} name="passive" nameX={441} labelY={224} labelRight={438} hx={406} tickY={278} timeY={293} tickOff={4.5}
        layers={[["blue", spBlue], ["mid", spMid], ["teal", spTeal], ["green", spGreen], ["bright", spBright], ["lime", spLime], ["yellow", spYellow], ["orange", spOrange], ["red", spRed]]} patches={spPatches} />
      <Hse x0={438} x1={756} top={322} bottom={401} active={sHseActive} passive={sHsePassive} labelRight={438} hx={406} nameX={439} tickY={415} timeY={432} />

      <Txt x={10} y={462} fontSize={27.5}>C</Txt>
      <Txt x={202} y={468} fontSize={26} textAnchor="middle">Triangle</Txt>
      <Heat id="c1" x0={58} x1={377} top={491} bottom={569} name="active" nameX={58} labelY={530} labelRight={53} hx={21} tickY={584} timeY={601} tickOff={6}
        layers={[["blue", taBlue], ["bright", taGreen], ["lime", taLime], ["yellow", taYellow], ["orange", taOrange], ["red", taRed]]} patches={taPatches} />
      <Heat id="c2" x0={57} x1={376} top={626} bottom={704} name="passive" nameX={59} labelY={665} labelRight={53} hx={21} tickY={718} timeY={735} tickOff={4.5}
        layers={[["blue", tpBlue], ["teal", tpTeal], ["green", tpGreen], ["lime", tpLime], ["yellow", tpYellow], ["orange", tpOrange], ["red", tpRed]]} patches={tpPatches} />
      <Hse x0={56} x1={374} top={762} bottom={842} active={tHseActive} passive={tHsePassive} labelRight={53} hx={25} nameX={59} tickY={859} timeY={874} />

      <ColorBar />

      <Txt x={591} y={715} fontSize={19.5} textAnchor="end">active</Txt>
      <line x1={598} x2={668} y1={710} y2={710} stroke="#e8505a" strokeWidth={1} />
      <Txt x={590} y={741} fontSize={19.5} textAnchor="end">passive</Txt>
      <line x1={598} x2={668} y1={735} y2={735} stroke="#40e850" strokeWidth={1} strokeDasharray="6 4" />
    </svg>
  );
}
